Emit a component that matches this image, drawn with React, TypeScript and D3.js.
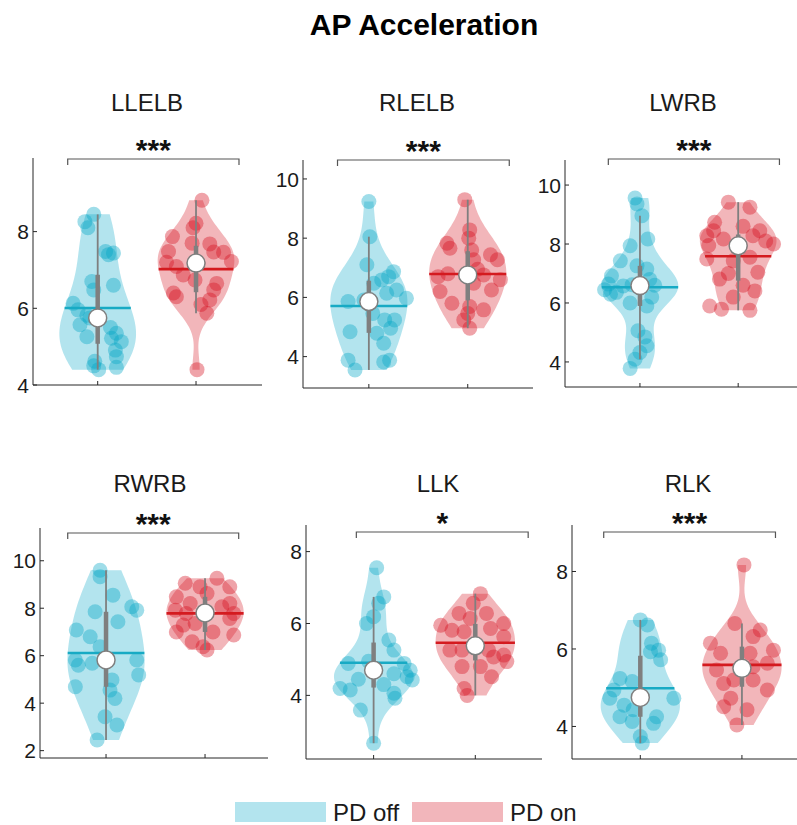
import * as d3 from 'd3';
import React from 'react';

// ---- data: [value, horizontal jitter in x units] ----
const panelNames = ['LLELB', 'RLELB', 'LWRB', 'RWRB', 'LLK', 'RLK'];
const significance = ['***', '***', '***', '***', '*', '***'];
const groupNames = ['PD off', 'PD on'];
const yTicks = [[4, 6, 8], [4, 6, 8, 10], [4, 6, 8, 10], [2, 4, 6, 8, 10], [4, 6, 8], [4, 6, 8]];

type Pt = [number, number];

const llelbOff: Pt[] = [[8.45, -0.04], [8.26, -0.13], [8.10, -0.10], [7.48, 0.08], [7.44, 0.16], [7.40, 0.11], [6.70, -0.06], [6.60, 0.16], [6.48, -0.04], [6.13, -0.25], [5.96, -0.20], [5.82, -0.11], [5.75, -0.08], [5.57, -0.18], [5.50, 0.13], [5.35, 0.19], [5.26, -0.11], [5.22, 0.14], [5.13, 0.24], [4.91, 0.18], [4.74, 0.19], [4.62, -0.03], [4.50, -0.04], [4.46, 0.19], [4.40, 0.01]];
const llelbOn: Pt[] = [[8.82, 0.06], [8.22, 0.0], [8.10, -0.03], [7.87, -0.24], [7.70, -0.04], [7.68, 0.14], [7.48, -0.28], [7.47, 0.18], [7.46, 0.28], [7.22, 0.36], [7.20, -0.30], [7.18, 0.02], [7.09, -0.20], [6.87, -0.13], [6.74, -0.01], [6.65, 0.21], [6.48, 0.18], [6.40, -0.23], [6.30, -0.20], [6.22, 0.14], [6.10, 0.05], [5.87, 0.11], [4.40, 0.01]];

const rlelbOff: Pt[] = [[9.24, 0.0], [8.05, 0.01], [7.10, -0.02], [6.87, 0.25], [6.70, 0.20], [6.59, 0.13], [6.48, 0.05], [6.25, 0.28], [6.14, 0.18], [5.97, 0.38], [5.91, -0.05], [5.86, -0.21], [5.46, 0.04], [5.24, 0.16], [5.24, 0.26], [4.96, 0.22], [4.84, -0.19], [4.79, 0.08], [4.45, 0.15], [3.88, -0.21], [3.88, 0.21], [3.82, 0.15], [3.55, -0.14]];
const rlelbOn: Pt[] = [[9.30, -0.03], [8.28, 0.02], [8.00, 0.01], [7.83, -0.21], [7.66, -0.18], [7.60, 0.04], [7.44, 0.23], [7.27, 0.06], [7.27, 0.30], [6.95, 0.10], [6.80, -0.20], [6.76, 0.16], [6.70, -0.30], [6.60, 0.33], [6.48, 0.06], [6.25, 0.24], [6.20, -0.28], [5.80, -0.16], [5.69, 0.02], [5.58, 0.16], [5.46, 0.0], [5.24, -0.04], [4.96, 0.02]];

const lwrbOff: Pt[] = [[9.56, -0.05], [9.36, -0.03], [8.96, 0.02], [8.17, 0.08], [7.94, -0.10], [7.43, -0.20], [7.26, -0.03], [7.15, 0.07], [6.92, -0.29], [6.80, 0.10], [6.64, -0.32], [6.58, -0.17], [6.62, -0.08], [6.60, 0.15], [6.45, -0.36], [6.36, -0.24], [6.30, -0.30], [6.20, 0.12], [6.00, -0.10], [5.90, 0.07], [5.06, -0.02], [4.85, 0.05], [4.55, 0.07], [4.32, 0.0], [4.09, -0.05], [3.78, -0.10]];
const lwrbOn: Pt[] = [[9.42, -0.10], [9.25, 0.12], [8.74, -0.24], [8.60, 0.05], [8.45, -0.25], [8.45, 0.22], [8.28, -0.32], [8.28, 0.15], [8.17, -0.15], [8.10, 0.28], [8.00, 0.36], [7.95, -0.30], [7.94, 0.02], [7.55, 0.12], [7.49, -0.32], [7.43, -0.05], [7.04, 0.20], [7.00, -0.10], [6.81, -0.19], [6.60, 0.05], [6.41, 0.17], [6.20, -0.05], [5.90, -0.29], [5.79, -0.17], [5.75, 0.12]];

const rwrbOff: Pt[] = [[9.60, -0.06], [9.33, -0.06], [8.55, 0.07], [8.06, 0.26], [7.92, 0.31], [7.85, -0.11], [7.43, 0.12], [7.08, -0.30], [6.80, -0.16], [6.38, -0.06], [5.82, -0.31], [5.82, 0.31], [5.68, -0.14], [5.60, -0.28], [5.19, 0.33], [4.98, 0.06], [4.69, -0.31], [4.55, 0.04], [4.20, 0.09], [3.43, -0.01], [3.08, 0.11], [2.45, -0.09]];
const rwrbOn: Pt[] = [[9.26, 0.12], [9.05, -0.20], [8.90, -0.05], [8.90, 0.25], [8.62, 0.02], [8.48, -0.29], [8.20, -0.15], [8.20, 0.25], [8.06, 0.17], [7.92, -0.30], [7.82, 0.0], [7.78, -0.19], [7.78, 0.29], [7.57, 0.25], [7.36, -0.10], [7.29, -0.22], [7.00, -0.29], [7.00, 0.08], [6.87, 0.29], [6.59, -0.13], [6.38, -0.02], [6.24, 0.02]];

const llkOff: Pt[] = [[7.55, 0.03], [6.74, 0.10], [6.56, 0.05], [6.19, 0.0], [6.00, -0.07], [5.54, 0.15], [5.26, 0.20], [4.95, -0.05], [4.89, -0.25], [4.89, 0.30], [4.73, 0.0], [4.70, 0.36], [4.60, 0.20], [4.52, 0.33], [4.45, -0.15], [4.43, 0.38], [4.30, 0.10], [4.19, -0.33], [4.15, -0.23], [4.06, 0.20], [3.92, 0.21], [3.59, -0.13], [2.67, 0.0]];
const llkOn: Pt[] = [[6.83, 0.05], [6.56, -0.02], [6.28, -0.16], [6.28, 0.11], [6.14, -0.05], [6.00, 0.28], [5.95, -0.34], [5.86, 0.15], [5.81, -0.23], [5.77, -0.11], [5.63, 0.28], [5.38, 0.0], [5.26, -0.25], [5.26, -0.13], [5.26, 0.13], [5.12, 0.28], [5.07, 0.18], [4.94, 0.31], [4.80, -0.13], [4.80, 0.05], [4.52, 0.16], [4.19, -0.11], [4.00, -0.08]];

const rlkOff: Pt[] = [[6.75, 0.0], [6.62, 0.07], [6.15, 0.11], [5.97, 0.18], [5.93, 0.10], [5.72, 0.20], [5.24, -0.20], [5.16, -0.08], [4.94, -0.26], [4.77, 0.0], [4.73, -0.30], [4.73, 0.33], [4.55, -0.16], [4.43, -0.07], [4.25, -0.20], [4.25, 0.16], [4.13, -0.08], [4.08, 0.13], [3.74, 0.0], [3.57, 0.02]];
const rlkOn: Pt[] = [[8.17, 0.02], [6.66, -0.07], [6.49, 0.18], [6.32, 0.11], [6.15, -0.31], [5.97, 0.31], [5.89, -0.21], [5.89, 0.08], [5.63, 0.25], [5.54, 0.11], [5.46, -0.25], [5.46, 0.0], [5.20, -0.08], [5.20, 0.11], [5.11, -0.18], [4.94, 0.25], [4.73, -0.11], [4.51, -0.18], [4.43, 0.05], [4.04, -0.05]];

const panelData: Pt[][][] = [
    [llelbOff, llelbOn], [rlelbOff, rlelbOn], [lwrbOff, lwrbOn],
    [rwrbOff, rwrbOn], [llkOff, llkOn], [rlkOff, rlkOn],
];

// ---- layout (pixels) ----
const layout = [
    { left: 33, right: 262, top: 158, bottom: 385, xlim: [0.342, 2.671], ylim: [4, 9.92], bracket: [0.695, 2.437], bracketY: 159, titleX: 147 },
    { left: 303, right: 533, top: 160, bottom: 388, xlim: [0.334, 2.66], ylim: [2.94, 10.64], bracket: [0.683, 2.42], bracketY: 160, titleX: 417 },
    { left: 565, right: 804, top: 160, bottom: 387, xlim: [0.237, 2.67], ylim: [3.15, 10.85], bracket: [0.678, 2.42], bracketY: 159, titleX: 683 },
    { left: 40, right: 268, top: 528, bottom: 758, xlim: [0.333, 2.636], ylim: [1.69, 11.38], bracket: [0.613, 2.34], bracketY: 533, titleX: 150 },
    { left: 306, right: 542, top: 525, bottom: 759, xlim: [0.335, 2.656], ylim: [2.23, 8.74], bracket: [0.83, 2.52], bracketY: 532, titleX: 438 },
    { left: 572, right: 808, top: 525, bottom: 759, xlim: [0.328, 2.65], ylim: [3.16, 9.2], bracket: [0.64, 2.33], bracketY: 532, titleX: 688 },
];

const baseColors = ['#02a5c6', '#d40c1c'];
const meanColors = ['#17aac4', '#d41a1f'];
const legendFill = ['#b3e4ee', '#f2b6bb'];
const boxGray = '#7f7f7f';
const font = '"Liberation Sans", Arial, Helvetica, sans-serif';
const halfWidth = 0.39;

// MATLAB-style quantile
function mquantile(sorted: number[], p: number) {
    const n = sorted.length;
    const pos = p * n - 0.5;
    if (pos <= 0) return sorted[0];
    if (pos >= n - 1) return sorted[n - 1];
    const i = Math.floor(pos);
    return sorted[i] + (pos - i) * (sorted[i + 1] - sorted[i]);
}

function makeKde(vals: number[]) {
    const n = vals.length;
    const med = d3.median(vals) as number;
    const mad = d3.median(vals.map(v => Math.abs(v - med))) as number;
    const bw = (mad / 0.6745) * Math.pow(4 / (3 * n), 0.2);
    return (g: number) => (d3.mean(vals, v => Math.exp(-0.5 * ((g - v) / bw) ** 2)) as number) / (bw * Math.sqrt(2 * Math.PI));
}

function Violin({ pts, pos, gi, x, y }: { pts: Pt[]; pos: number; gi: number; x: d3.ScaleLinear<number, number>; y: d3.ScaleLinear<number, number> }) {
    const vals = pts.map(p => p[0]);
    const sorted = vals.slice().sort((a, b) => a - b);
    const lo = sorted[0];
    const hi = sorted[sorted.length - 1];
    const kde = makeKde(vals);
    const grid = d3.range(100).map(i => lo + (hi - lo) * i / 99);
    const dens = grid.map(kde);
    const scale = halfWidth / (d3.max(dens) as number);

    const area = d3.area<number>()
        .y((_, i) => y(grid[i]))
        .x0((d) => x(pos - d * scale))
        .x1((d) => x(pos + d * scale));

    const q1 = mquantile(sorted, 0.25);
    const q3 = mquantile(sorted, 0.75);
    const iqr = q3 - q1;
    const med = d3.median(vals) as number;
    const mean = d3.mean(vals) as number;
    const wHi = d3.max(vals.filter(v => v <= q3 + 1.5 * iqr)) as number;
    const wLo = d3.min(vals.filter(v => v >= q1 - 1.5 * iqr)) as number;
    const meanW = kde(mean) * scale;

    return (
        <g>
            <path d={area(dens) || ''} fill={baseColors[gi]} fillOpacity={0.3} stroke="none" />
            {pts.map((p, i) => (
                <circle key={i} cx={x(pos + p[1])} cy={y(p[0])} r={7.5} fill={baseColors[gi]} fillOpacity={0.38} />
            ))}
            <line x1={x(pos - meanW)} x2={x(pos + meanW)} y1={y(mean)} y2={y(mean)} stroke={meanColors[gi]} strokeWidth={2.6} />
            <line x1={x(pos)} x2={x(pos)} y1={y(wLo)} y2={y(wHi)} stroke={boxGray} strokeWidth={1.8} />
            <line x1={x(pos)} x2={x(pos)} y1={y(q1)} y2={y(q3)} stroke={boxGray} strokeWidth={4.5} />
            <circle cx={x(pos)} cy={y(med)} r={9} fill="#fff" stroke={boxGray} strokeWidth={1.5} />
        </g>
    );
}

function Panel({ idx }: { idx: number }) {
    const L = layout[idx];
    const x = d3.scaleLinear().domain(L.xlim).range([L.left, L.right]);
    const y = d3.scaleLinear().domain(L.ylim).range([L.bottom, L.top]);
    const axisColor = '#262626';
    const titleY = idx < 3 ? 111 : 492;
    return (
        <g>
            <text x={L.titleX} y={titleY} textAnchor="middle" fontSize={24} fontFamily={font} fill="#1a1a1a">{panelNames[idx]}</text>
            {/* significance bracket */}
            <path d={`M${x(L.bracket[0])},${L.bracketY + 6}V${L.bracketY}H${x(L.bracket[1])}V${L.bracketY + 6}`} fill="none" stroke="#555" strokeWidth={1.2} />
            <text x={(x(L.bracket[0]) + x(L.bracket[1])) / 2} y={L.bracketY + 1} textAnchor="middle" fontSize={30} fontWeight="bold" fontFamily={font} fill="#111">{significance[idx]}</text>
            {panelData[idx].map((pts, gi) => (
                <Violin key={gi} pts={pts} pos={gi + 1} gi={gi} x={x} y={y} />
            ))}
            {/* axes */}
            <line x1={L.left} x2={L.left} y1={L.top} y2={L.bottom} stroke={axisColor} strokeWidth={1} />
            <line x1={L.left} x2={L.right} y1={L.bottom} y2={L.bottom} stroke={axisColor} strokeWidth={1} />
            {yTicks[idx].map(t => (
                <g key={t}>
                    <line x1={L.left} x2={L.left + 4} y1={y(t)} y2={y(t)} stroke={axisColor} />
                    <text x={L.left - 4} y={y(t)} dy="0.36em" textAnchor="end" fontSize={21} fontFamily={font} fill="#1a1a1a">{t}</text>
                </g>
            ))}
            {[1, 2].map(t => (
                <line key={t} x1={x(t)} x2={x(t)} y1={L.bottom} y2={L.bottom - 4} stroke={axisColor} />
            ))}
        </g>
    );
}

export default function App() {
    return (
        <div>
            <style>{`body{margin:0;}`}</style>
            <svg width={797} height={825} style={{ display: 'block', background: '#fff' }}>
                <text x={424} y={35} textAnchor="middle" fontSize={30} fontWeight="bold" fontFamily={font} fill="#000">AP Acceleration</text>
                {panelNames.map((_, i) => <Panel key={i} idx={i} />)}
                {groupNames.map((g, i) => (
                    <g key={g}>
                        <rect x={235 + i * 177} y={802} width={91} height={20} fill={legendFill[i]} />
                        <text x={333 + i * 177} y={821} fontSize={24} fontFamily={font} fill="#1a1a1a">{g}</text>
                    </g>
                ))}
            </svg>
        </div>
    );
}
